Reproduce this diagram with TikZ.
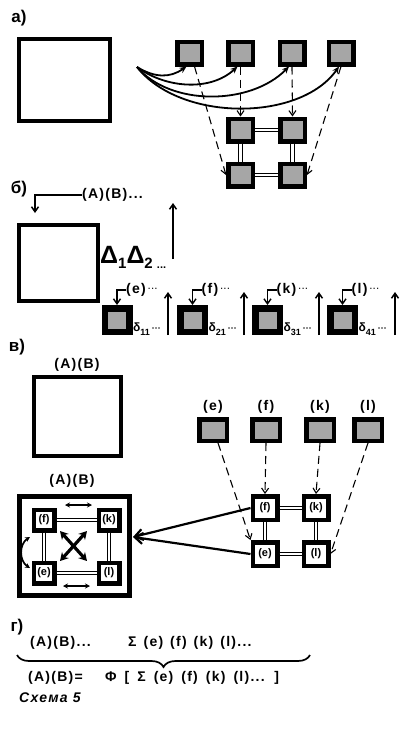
\documentclass[tikz,border=0pt]{standalone}
\usepackage{fontspec}
\setmainfont{Liberation Sans}[LetterSpace=9]
\newfontfamily\plainsans{Liberation Sans}
\usetikzlibrary{arrows.meta,decorations.pathreplacing}
\tikzset{
  lab/.style={font=\bfseries\fontsize{14}{16}\selectfont, inner sep=0pt},
  sec/.style={font=\bfseries\plainsans\fontsize{17}{19}\selectfont, inner sep=0pt},
  bigsq/.style={draw=black, line width=4pt, fill=white, inner sep=0pt},
  gbox/.style={draw=black, line width=4.5pt, fill=black!35, inner sep=0pt, minimum width=24.5pt, minimum height=22.5pt},
  gboxb/.style={draw=black, line width=6.5pt, fill=black!35, inner sep=0pt, minimum width=24.5pt, minimum height=23.5pt},
  gboxc/.style={draw=black, line width=4.5pt, fill=black!35, inner sep=0pt, minimum width=27.5pt, minimum height=21.5pt},
  wbox/.style={draw=black, line width=4.5pt, fill=white, inner sep=0pt, minimum width=24.5pt, minimum height=23.5pt, font=\bfseries\plainsans\fontsize{11}{11}\selectfont},
  wboxs/.style={draw=black, line width=4.5pt, fill=white, inner sep=0pt, minimum width=20.5pt, minimum height=20.5pt, font=\bfseries\plainsans\fontsize{11}{11}\selectfont},
  dbl/.style={double, double distance=2.2pt, line width=1.2pt},
  dsh/.style={line width=1.1pt, dash pattern=on 8pt off 5pt, -{Straight Barb[length=5pt,width=7pt]}},
  carr/.style={line width=1.8pt, -{Stealth[length=7pt,width=6pt]}},
  sarr/.style={line width=1.5pt, -{Straight Barb[length=5pt,width=7pt]}},
  tarr/.style={line width=1.7pt, {Stealth[length=5pt,width=5pt]}-{Stealth[length=5pt,width=5pt]}},
  xarr/.style={line width=3.2pt, {Stealth[length=8pt,width=9pt]}-{Stealth[length=8pt,width=9pt]}},
  bigarr/.style={line width=2.2pt, -{Straight Barb[length=8pt,width=11pt]}},
}
\begin{document}
\begin{tikzpicture}[x=1pt,y=-1pt]
\useasboundingbox (0,0) rectangle (403,734);
\fill[white] (0,0) rectangle (403,734);

% ---------- a)
\node[sec] (la) at (19,18) {а)};
\node[bigsq, minimum width=91pt, minimum height=82pt] (A0) at (64.5,80) {};
\node[gbox] (t1) at (189.5,53) {};
\node[gbox] (t2) at (240.5,53) {};
\node[gbox] (t3) at (292,53) {};
\node[gbox] (t4) at (341,53) {};
\node[gbox] (g11) at (240.5,130) {};
\node[gbox] (g12) at (292.5,130) {};
\node[gbox] (g21) at (240.5,175) {};
\node[gbox] (g22) at (292.5,175) {};
\draw[dbl] (g11) -- (g12);
\draw[dbl] (g21) -- (g22);
\draw[dbl] (g11) -- (g21);
\draw[dbl] (g12) -- (g22);
\coordinate (src) at (137,67);
\draw[carr] (src) .. controls (155,78) and (170,78) .. ([xshift=-3pt]t1.south);
\draw[carr] (src) .. controls (165,88) and (210,92) .. ([xshift=-3pt]t2.south);
\draw[carr] (src) .. controls (170,106) and (250,106) .. ([xshift=-3pt]t3.south);
\draw[carr] (src) .. controls (180,122) and (300,122) .. ([xshift=-2pt]t4.south);
\draw[dsh] ([xshift=5pt]t1.south) -- (g21.west);
\draw[dsh] (t2.south) -- (g11.north);
\draw[dsh] (t3.south) -- (g12.north);
\draw[dsh] (t4.south) -- (g22.east);

% ---------- b)
\node[sec] (lb) at (19,189) {б)};
\node[lab, anchor=west] (AB1) at (82,195) {(A)(B)...};
\coordinate (bend1) at (35,213);
\draw[sarr] (AB1.west) -| (bend1);
\node[bigsq, minimum width=79pt, minimum height=76pt] (B0) at (58.5,263) {};
\node[anchor=west, inner sep=0pt, font=\bfseries\plainsans\fontsize{25}{27}\selectfont] (D) at (100,257)
  {Δ\raisebox{-5pt}{\fontsize{15}{15}\selectfont 1}Δ\raisebox{-5pt}{\fontsize{15}{15}\selectfont 2}\,\raisebox{-5pt}{\fontsize{11}{11}\selectfont ...}};
\coordinate (ub1) at (173,259);
\coordinate (ub2) at (173,203);
\draw[sarr] (ub1) -- (ub2);
\foreach \i/\x/\t/\u in {1/117/e/168, 2/192.5/f/244, 3/267.5/k/319, 4/342.5/l/395}{
  \node[gboxb] (r\i) at (\x,320) {};
  \node[lab, anchor=west] (rl\i) at ({\x+9},290) {(\t)\,\raisebox{2pt}{\fontsize{8}{8}\selectfont ···}};
  \draw[sarr, line width=1.4pt] (rl\i.west) -| (r\i.north);
  \coordinate (rua\i) at (\u,335);
  \coordinate (rub\i) at (\u,292);
  \draw[sarr] (rua\i) -- (rub\i);
  \node[anchor=west, inner sep=0pt, font=\bfseries\plainsans\fontsize{12}{12}\selectfont] (rd\i) at ({\x+16},329)
    {δ\raisebox{-4pt}{\fontsize{9}{9}\selectfont \i1}\,\fontsize{9}{9}\selectfont ···};
}

% ---------- v)
\node[sec] (lv) at (17,347) {в)};
\node[lab] (AB2) at (77,365) {(A)(B)};
\node[bigsq, minimum width=87pt, minimum height=79pt] (C0) at (77.5,416.5) {};
\node[lab] (AB3) at (72,481) {(A)(B)};
\node[bigsq, line width=5pt, minimum width=110pt, minimum height=99pt] (O) at (74.5,546) {};
\node[wboxs] (if) at (44,520) {(f)};
\node[wboxs] (ik) at (109,520) {(k)};
\node[wboxs] (ie) at (44,573) {(e)};
\node[wboxs] (il) at (109,573) {(l)};
\draw[dbl] (if) -- (ik);
\draw[dbl] (ie) -- (il);
\draw[dbl] (if) -- (ie);
\draw[dbl] (ik) -- (il);
\coordinate (ta1) at (65,505); \coordinate (ta2) at (92,505);
\draw[tarr] (ta1) -- (ta2);
\coordinate (ba1) at (63,586); \coordinate (ba2) at (90,586);
\draw[tarr] (ba1) -- (ba2);
\coordinate (la1) at (30,537); \coordinate (la2) at (30,568);
\draw[tarr] (la1) .. controls (19,544) and (19,561) .. (la2);
\coordinate (x1) at (60,531); \coordinate (x2) at (87,561);
\coordinate (x3) at (87,531); \coordinate (x4) at (60,561);
\draw[xarr] (x1) -- (x2);
\draw[xarr] (x3) -- (x4);

\foreach \n/\x in {e/213, f/266, k/320, l/368}{
  \node[gboxc] (u\n) at (\x,430) {};
  \node[lab] (ul\n) at (\x,407) {(\n)};
}
\node[wbox] (vf) at (265,508) {(f)};
\node[wbox] (vk) at (316,508) {(k)};
\node[wbox] (ve) at (265,554) {(e)};
\node[wbox] (vl) at (316,554) {(l)};
\draw[dbl] (vf) -- (vk);
\draw[dbl] (ve) -- (vl);
\draw[dbl] (vf) -- (ve);
\draw[dbl] (vk) -- (vl);
\draw[dsh] ([xshift=5pt]ue.south) -- (ve.north west);
\draw[dsh] (uf.south) -- (vf.north);
\draw[dsh] (uk.south) -- (vk.north);
\draw[dsh] (ul.south) -- (vl.east);
\coordinate (tgt) at (133,537);
\draw[bigarr] (vf.west) -- (tgt);
\draw[bigarr] (ve.west) -- (tgt);

% ---------- g)
\node[sec] (lg) at (17,627) {г)};
\node[lab, anchor=west] (g1a) at (30,643) {(A)(B)...};
\node[lab, anchor=west] (g1b) at (128,643) {\spaceskip=7pt Σ (e) (f) (k) (l)...};
\coordinate (br1) at (17,655);
\coordinate (br2) at (310,655);
\draw[line width=1.7pt, decorate, decoration={brace, mirror, amplitude=12pt}] (br1) -- (br2);
\node[lab, anchor=west] (g2a) at (28,678) {(A)(B)=};
\node[lab, anchor=west] (g2b) at (105,678) {\spaceskip=8pt Φ [ Σ (e) (f) (k) (l)... ]};
\node[anchor=west, inner sep=0pt, font=\bfseries\itshape\fontsize{14}{16}\selectfont] (sch) at (19,698) {Схема 5};
\end{tikzpicture}
\end{document}
